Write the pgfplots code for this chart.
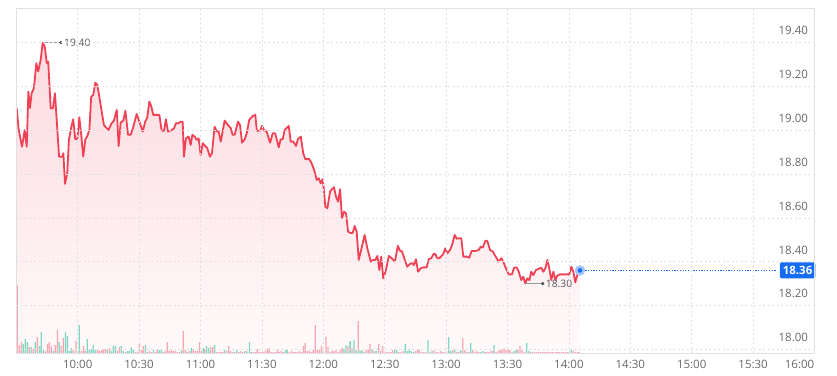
\documentclass[border=0pt]{standalone}
\usepackage{fontspec}
\setmainfont{Open Sans}
\usepackage{pgfplots}
\usepackage{pgfplotstable}
\pgfplotsset{compat=1.18}
\usepgfplotslibrary{fillbetween}

\definecolor{linered}{RGB}{240,66,84}
\definecolor{fillTop}{RGB}{252,218,223}
\definecolor{fillBot}{RGB}{255,250,250}
\definecolor{volPink}{RGB}{248,165,175}
\definecolor{volTeal}{RGB}{125,215,195}
\definecolor{gridc}{RGB}{224,224,228}
\definecolor{framec}{RGB}{222,224,230}
\definecolor{lblc}{RGB}{105,105,105}
\definecolor{blueMark}{RGB}{22,108,240}
\definecolor{annc}{RGB}{85,85,90}

\pgfplotstableread{
t p
0.2 19.100
1.2 19.001
2.8 18.925
4.1 19.001
5.1 18.925
5.9 19.176
6.7 19.102
7.5 19.169
8.6 19.192
9.8 19.306
10.7 19.268
11.9 19.321
12.9 19.400
13.9 19.382
14.9 19.306
15.6 19.313
16.8 19.100
17.9 19.100
18.9 19.169
20.9 18.879
22.5 18.879
23.0 18.895
23.8 18.755
24.9 18.804
25.7 18.956
26.9 19.016
27.8 19.050
28.8 18.959
29.8 18.959
30.8 19.059
31.8 18.971
32.7 18.879
33.7 18.956
34.7 18.974
35.7 19.001
36.6 19.153
37.6 19.161
38.6 19.217
39.6 19.207
41.2 19.116
42.8 19.024
44.2 19.009
45.1 19.001
46.4 19.029
47.7 19.044
49.1 19.093
50.0 18.928
51.0 19.035
52.3 19.044
53.3 19.089
54.6 18.979
55.9 18.979
57.2 19.016
58.8 19.074
60.4 19.032
61.8 18.994
63.0 19.039
64.0 19.059
65.0 19.131
66.0 19.108
66.9 19.070
69.9 19.070
71.0 18.998
72.2 18.998
73.1 19.050
74.1 18.994
75.9 19.001
77.1 19.009
78.0 19.032
79.3 19.032
80.3 19.039
81.3 19.039
81.9 18.879
82.9 18.963
84.2 18.971
85.2 18.933
86.0 18.979
87.2 18.971
88.1 18.956
89.1 18.963
90.1 18.887
91.1 18.941
92.3 18.928
93.3 18.918
94.6 18.879
95.6 18.895
96.9 19.016
97.9 18.994
98.9 18.994
99.9 18.948
101.8 19.044
103.4 19.024
104.8 19.009
105.7 18.979
106.7 18.979
108.3 19.039
109.3 19.024
110.3 18.943
111.6 18.959
112.6 18.986
113.8 19.047
115.5 19.065
116.8 19.070
117.5 18.998
119.1 18.998
120.1 19.020
121.0 19.001
122.3 18.994
124.0 18.943
125.3 18.986
126.5 18.986
128.2 18.922
129.2 18.959
130.2 18.959
131.1 19.001
133.1 19.020
134.1 18.948
135.3 18.948
136.7 18.928
137.6 18.959
139.0 18.971
140.2 18.895
141.2 18.868
143.2 18.868
144.3 18.849
145.5 18.819
146.8 18.773
147.8 18.781
148.7 18.758
149.7 18.776
150.3 18.727
151.0 18.651
152.0 18.644
153.3 18.720
154.2 18.731
155.2 18.740
156.2 18.697
157.2 18.674
158.2 18.731
159.1 18.598
160.1 18.628
161.1 18.621
162.1 18.537
163.4 18.530
164.4 18.532
165.3 18.563
166.3 18.537
167.3 18.408
168.3 18.446
170.2 18.522
171.5 18.461
173.2 18.400
174.4 18.408
175.4 18.408
176.4 18.426
177.4 18.362
178.3 18.423
179.3 18.324
180.6 18.362
182.0 18.426
183.4 18.416
185.0 18.400
186.4 18.472
187.5 18.450
188.5 18.446
189.8 18.408
191.0 18.377
192.4 18.390
193.3 18.393
194.3 18.385
195.3 18.411
196.3 18.354
197.6 18.370
198.9 18.374
200.5 18.374
201.5 18.411
202.8 18.416
203.8 18.435
204.7 18.435
205.7 18.416
206.7 18.416
208.6 18.434
209.6 18.461
210.6 18.438
211.9 18.453
212.9 18.476
214.2 18.522
215.2 18.504
216.2 18.507
217.4 18.507
218.4 18.423
220.1 18.423
221.3 18.418
222.5 18.449
224.3 18.449
225.9 18.453
226.9 18.468
227.9 18.464
229.2 18.495
230.1 18.495
231.5 18.453
232.8 18.446
233.7 18.431
234.7 18.416
235.7 18.400
237.0 18.416
237.9 18.400
238.9 18.377
240.6 18.342
242.2 18.342
243.2 18.373
244.5 18.373
245.5 18.354
246.7 18.316
247.7 18.331
248.7 18.300
249.7 18.324
250.7 18.316
251.6 18.354
252.6 18.339
253.9 18.362
255.2 18.367
256.5 18.373
257.5 18.354
258.5 18.370
259.5 18.408
260.4 18.370
261.4 18.316
262.4 18.354
263.4 18.316
264.3 18.336
265.7 18.342
270.2 18.342
271.2 18.377
272.2 18.354
273.1 18.305
274.1 18.339
275.4 18.360
}\pricedata

\pgfplotstableread{
t v
0.5 68
1.5 8
2.5 11
6.4 6
8.3 4
10.3 16
14.2 2
15.2 9
16.1 11
17.1 7
19.1 8
20.1 23
22.0 7
23.0 15
27.9 3
29.2 12
31.8 2
32.8 7
33.7 2
39.6 3
40.6 2
41.6 3
42.5 3
43.5 4
45.5 5
49.4 2
50.4 6
53.3 1
58.2 1
59.2 1
60.1 9
61.1 3
62.1 7
64.0 1
65.0 2
66.0 1
68.0 1
68.9 3
71.9 1
72.8 2
73.8 11
74.8 2
75.8 3
76.7 2
77.7 2
78.7 1
79.7 1
81.6 22
82.6 3
83.6 1
84.6 2
86.5 3
87.5 2
88.5 2
89.5 11
90.4 2
92.0 4
95.0 6
96.0 6
97.9 1
98.9 1
99.9 1
100.8 1
102.8 2
103.8 7
104.7 2
105.7 1
106.7 1
108.7 1
109.6 2
110.6 1
112.6 2
115.8 1
116.8 1
117.8 4
118.7 1
119.7 1
120.7 1
121.7 2
122.7 4
123.6 5
124.6 1
125.6 1
126.6 1
127.6 3
128.5 1
129.5 2
130.5 1
133.4 1
134.4 2
135.4 1
136.3 1
137.3 1
138.3 2
139.3 1
140.3 7
141.2 10
142.2 2
143.2 2
144.2 1
145.1 3
146.1 28
147.1 3
148.1 4
149.1 7
151.3 16
152.3 6
153.3 1
154.3 2
155.2 2
156.2 3
157.2 1
158.2 3
159.2 5
162.1 7
164.0 5
167.1 32
170.9 3
171.9 3
172.8 9
174.8 2
177.1 9
178.1 2
179.0 7
180.0 1
181.0 1
182.0 1
183.0 1
183.9 3
186.8 1
187.8 1
189.1 2
195.0 2
196.0 3
196.9 3
197.9 1
198.9 1
199.9 1
202.1 1
204.1 3
205.1 1
206.1 1
207.4 2
208.3 1
209.3 1
210.3 1
213.2 3
215.2 1
216.2 1
218.1 15
219.1 3
220.1 1
221.0 1
223.0 3
224.0 1
225.0 2
225.9 1
228.9 1
229.8 1
230.8 1
231.8 2
232.8 2
234.4 1
235.4 2
236.4 3
237.3 4
238.3 5
239.3 3
240.3 3
241.2 3
242.2 1
245.1 3
246.1 7
247.1 3
248.1 1
251.3 1
252.3 1
253.3 1
254.3 1
255.3 1
256.2 1
257.2 1
258.2 1
259.2 1
260.1 1
261.1 1
262.1 1
263.4 1
264.4 1
265.3 1
266.3 1
267.3 1
268.3 1
269.3 1
270.2 1
272.2 2
273.2 1
274.2 1
275.1 1
}\volpink

\pgfplotstableread{
t v
3.4 9
4.4 14
5.4 11
7.3 6
9.3 11
11.3 7
12.2 21
13.2 3
18.1 2
21.0 11
24.0 21
25.0 17
25.9 2
26.9 5
30.8 28
34.7 14
35.7 3
36.7 4
37.6 8
38.6 3
44.5 3
46.4 2
47.4 7
48.4 7
51.3 7
52.3 2
54.3 2
55.2 2
56.2 6
57.2 4
63.1 8
67.0 3
69.9 3
70.9 3
80.7 3
85.5 5
91.4 5
93.0 7
94.0 5
96.9 8
101.8 3
107.7 3
111.6 2
113.9 11
114.8 1
131.5 3
132.4 4
150.0 2
160.1 4
161.1 8
163.1 12
165.0 13
166.0 3
168.0 2
168.9 3
169.9 1
173.8 4
175.8 2
184.9 3
185.9 3
190.1 9
191.1 2
192.0 3
193.0 2
194.0 1
201.2 13
203.1 2
211.3 16
212.2 2
214.2 4
217.1 3
222.0 10
226.9 1
227.9 2
233.4 8
243.2 2
244.2 3
249.4 10
250.4 2
271.2 3
}\volteal

\begin{document}
\begin{tikzpicture}
\path (0,0) rectangle (837pt,375pt);
% background: frame, grid, area fill
\begin{axis}[
  at={(16.3pt,22pt)}, anchor=south west,
  scale only axis, width=798.2pt, height=345pt,
  xmin=0, xmax=390, ymin=17.983, ymax=19.558,
  axis on top,
  axis line style={draw=framec, line width=0.8pt},
  xtick={30,60,90,120,150,180,210,240,270,300,330,360},
  xticklabels={10:00,10:30,11:00,11:30,12:00,12:30,13:00,13:30,14:00,14:30,15:00,15:30},
  extra x ticks={390},
  extra x tick labels={16:00},
  extra x tick style={grid=none, xticklabel style={anchor=north east, xshift=3.3pt}},
  xticklabel style={yshift=-3.5pt},
  ytick={18.0,18.2,18.4,18.6,18.8,19.0,19.2,19.4},
  yticklabel pos=right,
  yticklabel style={anchor=east, xshift=-3pt, yshift=11.7pt,
    /pgf/number format/fixed, /pgf/number format/fixed zerofill,
    /pgf/number format/precision=2, /pgf/number format/assume math mode=true},
  ticklabel style={font=\fontsize{11.5}{13}\selectfont, text=lblc},
  major tick length=0pt,
  grid=major,
  major grid style={draw=gridc, dash pattern=on 2pt off 2.5pt, line width=0.6pt},
]
\addplot[name path=price, draw=none, forget plot] table[x=t,y=p] {\pricedata};
\addplot[name path=base, draw=none, forget plot] coordinates {(0,17.983) (275.4,17.983)};
\addplot[top color=fillTop, bottom color=fillBot, draw=none] fill between[of=price and base];
\end{axis}
% volume bars
\begin{axis}[
  at={(16.3pt,22pt)}, anchor=south west,
  scale only axis, width=798.2pt, height=345pt,
  xmin=0, xmax=390, ymin=0, ymax=345,
  hide axis,
]
\addplot[ybar, bar width=0.64, bar shift=0pt, fill=volPink, draw=none] table[x=t,y=v] {\volpink};
\addplot[ybar, bar width=0.64, bar shift=0pt, fill=volTeal, draw=none] table[x=t,y=v] {\volteal};
\end{axis}
% price line and annotations on top
\begin{axis}[
  at={(16.3pt,22pt)}, anchor=south west,
  scale only axis, width=798.2pt, height=345pt,
  xmin=0, xmax=390, ymin=17.983, ymax=19.558,
  hide axis, clip=false,
]
\addplot[linered, line width=1.8pt, line join=round] table[x=t,y=p] {\pricedata};
% high annotation
\addplot[annc!60, line width=0.7pt] coordinates {(12.9,19.40) (21.8,19.40)};
\addplot[only marks, mark=*, mark size=1.5pt, color=annc] coordinates {(21.8,19.40)};
\node[anchor=west, inner sep=0pt, xshift=3pt, font=\fontsize{10.3}{12}\selectfont, text=annc] at (axis cs:21.8,19.40) {19.40};
% low annotation
\addplot[annc!60, line width=0.7pt] coordinates {(248.7,18.30) (257.2,18.30)};
\addplot[only marks, mark=*, mark size=1.5pt, color=annc] coordinates {(257.2,18.30)};
\node[anchor=west, inner sep=0pt, xshift=3pt, font=\fontsize{10.3}{12}\selectfont, text=annc] at (axis cs:257.2,18.30) {18.30};
% last price
\addplot[blueMark, dash pattern=on 1.2pt off 1.5pt, line width=0.8pt] coordinates {(275.4,18.36) (371,18.36)};
\addplot[only marks, mark=*, mark size=5pt, color=blueMark!40] coordinates {(275.4,18.36)};
\addplot[only marks, mark=*, mark size=2pt, color=blueMark] coordinates {(275.4,18.36)};
\node[fill=blueMark, text=white, anchor=east, minimum height=16pt, inner xsep=3pt, inner ysep=1pt,
  rounded corners=1.5pt, font=\fontsize{11.5}{13}\selectfont\bfseries] at (axis cs:390.5,18.36) {18.36};
\end{axis}
\end{tikzpicture}
\end{document}
